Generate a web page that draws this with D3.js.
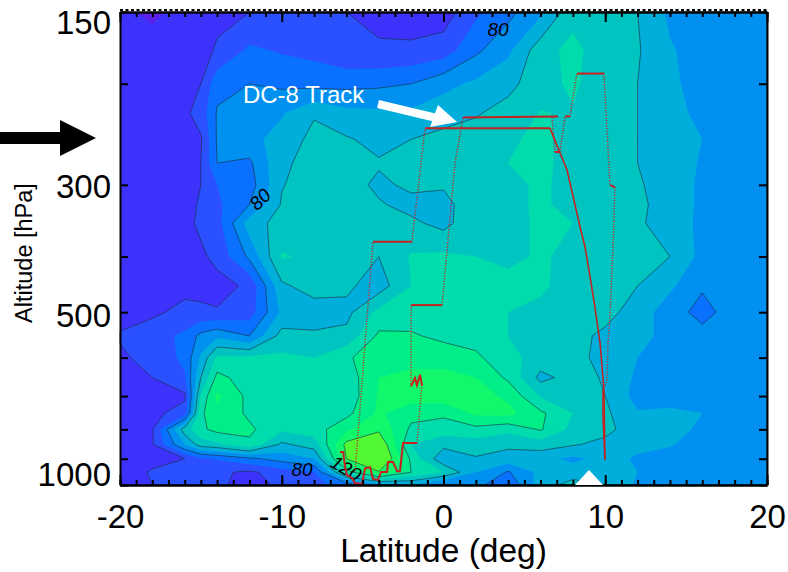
<!DOCTYPE html>
<html>
<head>
<meta charset="utf-8">
<script src="https://cdn.jsdelivr.net/npm/d3@7"></script>
<style>
    body { margin: 0; background: #fff; }
    text { font-family: "Liberation Sans", Arial, sans-serif; }
    .axis path, .axis line { stroke: #000; }
    .axis text { font-size: 33px; fill: #000; }
</style>
</head>
<body>
<svg id="chart" width="788" height="572"></svg>
<script>
// Latitude and pressure of the grid columns and rows
var lats = [-20, -18, -16, -15, -14, -12, -10, -8, -6, -4, -2, 0, 2, 4, 6, 8, 10, 12, 14, 16, 18, 20];
var levels = [150, 175, 200, 225, 250, 275, 300, 325, 350, 400, 450, 500, 550, 600, 650, 700, 750, 800, 850, 900, 950, 1000];

// Values (ppbv), one row per pressure level
var ozone = [
    [53, 47, 55, 56, 58, 60, 64, 65, 60, 58, 55, 55, 68, 77, 88, 107, 103, 100, 88, 85, 85, 86],
    [56, 57, 57, 57, 61, 72, 69, 67, 62, 61, 62, 65, 78, 88, 106, 113, 104, 101, 91, 86, 85, 88],
    [56, 56, 57, 60, 77, 80, 78, 77, 77, 78, 80, 87, 92, 97, 106, 112, 103, 100, 92, 86, 85, 84],
    [56, 56, 58, 64, 81, 85, 89, 99, 93, 92, 92, 96, 99, 104, 110.5, 109, 103, 100, 94, 87, 85, 84],
    [56, 55, 56, 59, 81, 87, 94, 103, 101, 97, 100, 103, 105, 108, 113, 105, 103, 100, 93, 90, 85, 84],
    [56, 56, 58, 60, 80, 78, 98.5, 103, 103, 101, 103, 105, 106, 110, 114, 104, 102, 100, 95, 89, 85, 84],
    [56, 56, 57, 60, 70, 75, 99.5, 104, 104, 98, 102, 101, 106, 105, 113, 104, 102, 101, 96, 88, 85, 84],
    [56, 56, 57, 61, 68, 80, 101, 104, 104, 101, 97, 97, 106, 105, 113, 104, 102, 102, 96, 88, 85, 84],
    [56, 56, 57, 62, 66, 95, 104, 105, 106, 103, 102, 97, 107, 104, 113, 110, 101, 101, 97, 87, 85, 84],
    [56, 56, 57, 58, 63, 82, 111, 108, 105, 100, 111, 112, 110, 108, 111, 108, 103, 102, 100, 87, 84, 84],
    [56, 56, 57, 57, 56, 62, 98, 105, 102, 95, 110, 114, 115, 113, 112, 105, 103, 100, 92, 81, 84, 84],
    [56, 58, 63, 62, 61, 65, 92, 94, 97, 113, 116, 117, 117, 110, 107, 104, 103, 96, 84, 77, 84, 84],
    [61, 66, 72, 83, 88, 80, 104, 102, 103, 122, 121, 118, 116, 110, 105, 103, 98, 94, 86, 83, 84, 84],
    [58, 64, 72, 92, 112, 112, 112, 110, 119, 124, 126, 125, 122, 113, 106, 104, 96, 90, 84, 84, 84, 84],
    [57, 60, 69, 100, 123, 115, 113, 110, 114, 130, 133, 134, 130, 118, 97, 104, 99, 88, 84, 84, 84, 84],
    [57, 57, 58, 112, 132, 117, 112, 112, 113, 131, 135, 136, 134, 128, 109, 107, 100, 86, 84, 84, 84, 84],
    [57, 57, 65, 118, 128, 118, 113, 112, 117, 132, 123, 122, 132, 133, 122, 110, 102, 91, 93, 90, 84, 84],
    [57, 59, 105, 118, 123, 122, 112, 115, 128, 138, 118, 115, 117, 113, 121, 107, 103, 94, 94, 88, 84, 84],
    [57, 59, 90, 105, 108, 118, 98, 105, 143, 150, 110, 103, 105, 102, 105, 101, 97, 92, 91, 85, 84, 84],
    [57, 57, 60, 68, 71, 78, 84, 90, 140, 155, 118, 92, 99, 96, 93, 88, 93, 89, 85, 84, 84, 84],
    [55, 61, 61, 62, 62, 58, 65, 70, 115, 139, 120, 110, 90, 79, 93, 95, 97, 90, 86, 84, 84, 84],
    [55, 60, 62, 62, 62, 56, 62, 68, 73, 85, 90, 78, 83, 72, 95, 104, 100, 88, 85, 84, 84, 84]
];

// Filled bands and the lines drawn on top of them
var bandStarts = [50, 60, 70, 80, 90, 100, 110, 120, 130, 140];
var bandColors = ["#3d32fb", "#2a50ff", "#0a70ff", "#0090f0", "#00aedc", "#00c4c0", "#00dcac", "#00ee88", "#12f86c", "#52f832"];
var lineLevels = [60, 80, 100, 120, 140];

// Tick labels
var latTicks = [-20, -10, 0, 10, 20];
var latMinor = d3.range(-20, 21);
var presLabels = [150, 300, 500, 1000];
var presLabelBaseline = [21, 13, 14, 0];
var presTicks = [150, 200, 300, 400, 500, 600, 700, 800, 900, 1000];

// DC-8 flight track, one [lat, hPa] list per leg
var trackSolid = [
    [[-6.4, 876], [-6.2, 876], [-6.1, 923], [-5.97, 961], [-5.66, 972], [-5.47, 992], [-5.04, 996],
     [-4.85, 935], [-4.54, 931], [-4.36, 976], [-4.05, 980], [-3.86, 949], [-3.49, 949], [-3.43, 912],
     [-3.12, 912], [-2.87, 946], [-2.69, 946], [-2.5, 845], [-1.64, 845]],
    [[-2.01, 673], [-1.76, 651], [-1.64, 670], [-1.45, 643], [-1.33, 670]],
    [[-2.0, 486], [-0.09, 486]],
    [[-4.36, 377], [-1.95, 377]],
    [[-1.14, 239], [6.58, 239]],
    [[1.21, 229], [7.08, 228]],
    [[6.89, 263], [7.2, 263]],
    [[7.51, 228], [7.82, 228]],
    [[8.25, 192], [9.92, 192]],
    [[10.29, 300], [10.6, 303]]
];
var trackThin = [
    [[6.58, 239], [6.89, 251], [7.64, 283], [8.44, 355], [8.75, 385], [9.06, 434],
     [9.37, 492], [9.68, 566], [9.92, 683], [9.98, 905]],
    [[9.86, 683], [9.86, 762], [9.98, 900]]
];
var trackDotted = [
    [[-5.47, 950], [-5.35, 859], [-4.36, 377]],
    [[-1.64, 845], [-1.33, 665]],
    [[-2.01, 673], [-2.0, 486]],
    [[-0.09, 486], [0.71, 275], [1.21, 229]],
    [[-1.95, 377], [-1.14, 239]],
    [[6.71, 229], [6.89, 263]],
    [[7.2, 263], [7.51, 228]],
    [[7.82, 228], [8.25, 192]],
    [[9.92, 192], [10.29, 300]],
    [[10.6, 303], [10.48, 385], [10.29, 510], [10.17, 566], [10.11, 657], [9.86, 683]]
];

var margin = {top: 12, right: 21, bottom: 87, left: 120},
    width = 788 - margin.left - margin.right,
    height = 572 - margin.top - margin.bottom;

var svg = d3.select("#chart").append("g")
    .attr("transform", "translate(" + margin.left + "," + margin.top + ")");

var xScale = d3.scaleLinear().domain([-20, 20]).range([0, width]);
var yScale = d3.scaleLog().domain([150, 1000]).range([0, height]);

// d3.contours puts each value at index + 0.5, so map back to lat / pressure
var colToLat = d3.scaleLinear()
    .domain(lats.map(function(d, i) { return i + 0.5; }))
    .range(lats).clamp(true);
var rowToPres = d3.scaleLinear()
    .domain(levels.map(function(d, i) { return i + 0.5; }))
    .range(levels).clamp(true);

var gridPath = d3.geoPath(d3.geoTransform({
    point: function(c, r) {
        this.stream.point(xScale(colToLat(c)), yScale(rowToPres(r)));
    }
}));

var flat = d3.merge(ozone);
var contourGen = d3.contours().size([lats.length, levels.length]);

// Base band, then each higher band painted on top
svg.append("rect")
    .attr("width", width)
    .attr("height", height)
    .attr("fill", "#5a20e8");

svg.selectAll(".band")
    .data(contourGen.thresholds(bandStarts)(flat))
    .enter().append("path")
    .attr("class", "band")
    .attr("d", gridPath)
    .attr("fill", function(d, i) { return bandColors[i]; });

svg.selectAll(".isoline")
    .data(contourGen.thresholds(lineLevels)(flat))
    .enter().append("path")
    .attr("class", "isoline")
    .attr("d", gridPath)
    .attr("fill", "none")
    .attr("stroke", "#1d2b3a")
    .attr("stroke-width", 0.6);

// Labels sitting on the contour lines
var lineLabels = ["80", "80", "80", "120"];
var labelLat = [-11.34, 3.37, -8.75, -6.03];
var labelPres = [318, 161, 938, 935];
var labelAngle = [-45, 0, 0, 30];

svg.selectAll(".clabel")
    .data(lineLabels)
    .enter().append("text")
    .attr("class", "clabel")
    .attr("transform", function(d, i) {
        return "translate(" + xScale(labelLat[i]) + "," + yScale(labelPres[i]) + ") rotate(" + labelAngle[i] + ")";
    })
    .attr("text-anchor", "middle")
    .attr("dy", "0.35em")
    .style("font-size", "19px")
    .style("font-style", "italic")
    .text(function(d) { return d; });

// Flight track
var trackLine = d3.line()
    .x(function(d) { return xScale(d[0]); })
    .y(function(d) { return yScale(d[1]); });

function drawLegs(legs, lineWidth, dash) {
    svg.append("g").selectAll("path")
        .data(legs)
        .enter().append("path")
        .attr("d", trackLine)
        .attr("fill", "none")
        .attr("stroke", "#c8201e")
        .attr("stroke-width", lineWidth)
        .attr("stroke-dasharray", dash);
}
drawLegs(trackSolid, 2, null);
drawLegs(trackThin, 1.5, null);
drawLegs(trackDotted, 1.5, "1,1.6");

// Axes, all ticks point into the plot
var bottomAxis = d3.axisBottom(xScale)
    .tickValues(latTicks).tickSize(-10).tickSizeOuter(0).tickPadding(19.5)
    .tickFormat(function(d) { return d; });
var bottomMinor = d3.axisBottom(xScale)
    .tickValues(latMinor).tickSize(-5).tickSizeOuter(0).tickFormat("");
var topAxis = d3.axisTop(xScale)
    .tickValues(latTicks).tickSize(-10).tickSizeOuter(0).tickFormat("");
var topMinor = d3.axisTop(xScale)
    .tickValues(latMinor).tickSize(-5).tickSizeOuter(0).tickFormat("");
var leftAxis = d3.axisLeft(yScale)
    .tickValues(presTicks).tickSize(-8).tickSizeOuter(0).tickPadding(9)
    .tickFormat(function(d) { return presLabels.indexOf(d) >= 0 ? d : ""; });
var rightAxis = d3.axisRight(yScale)
    .tickValues(presTicks).tickSize(-8).tickSizeOuter(0).tickFormat("");

function drawAxis(axis, tx, ty) {
    var g = svg.append("g")
        .attr("class", "axis")
        .attr("transform", "translate(" + tx + "," + ty + ")")
        .call(axis);
    g.selectAll("path, line").attr("stroke-width", 2);
    return g;
}
drawAxis(bottomMinor, 0, height);
drawAxis(bottomAxis, 0, height);
drawAxis(topMinor, 0, 0);
drawAxis(topAxis, 0, 0);
drawAxis(rightAxis, width, 0);

// Pressure labels sit off their ticks, as in the original plot
drawAxis(leftAxis, 0, 0).selectAll("text")
    .attr("dy", function(d) {
        var i = presLabels.indexOf(d);
        return i >= 0 ? presLabelBaseline[i] : 0;
    });

// Row of small dashes just above the top axis
svg.append("line")
    .attr("x1", 0)
    .attr("x2", width)
    .attr("y1", -2)
    .attr("y2", -2)
    .attr("stroke", "#000")
    .attr("stroke-width", 2)
    .attr("stroke-dasharray", "3,2.5");

// Axis titles
svg.append("text")
    .attr("x", width / 2)
    .attr("y", height + 77)
    .attr("text-anchor", "middle")
    .style("font-size", "33.5px")
    .text("Latitude (deg)");

svg.append("text")
    .attr("transform", "rotate(-90)")
    .attr("x", -241)
    .attr("y", -88)
    .attr("text-anchor", "middle")
    .style("font-size", "23.5px")
    .text("Altitude [hPa]");

// Annotations
svg.append("text")
    .attr("x", xScale(-12.4))
    .attr("y", yScale(216))
    .attr("fill", "#fff")
    .style("font-size", "24px")
    .text("DC-8 Track");

var arrowLine = d3.line();
svg.append("path")
    .attr("d", arrowLine([[258, 92], [325, 108]]))
    .attr("stroke", "#fff")
    .attr("stroke-width", 8);
svg.append("path")
    .attr("d", arrowLine([[318, 93], [337, 110], [310, 115]]) + "Z")
    .attr("fill", "#fff");

// Black arrow outside the axis at the flight level
svg.append("path")
    .attr("d", arrowLine([[-120, 120], [-60, 120], [-60, 108], [-24, 126], [-60, 144], [-60, 132], [-120, 132]]) + "Z")
    .attr("fill", "#000");

// White marker on the bottom axis
svg.append("path")
    .attr("d", arrowLine([[455, 473], [469, 458], [483, 473]]) + "Z")
    .attr("fill", "#fff");
</script>
</body>
</html>
